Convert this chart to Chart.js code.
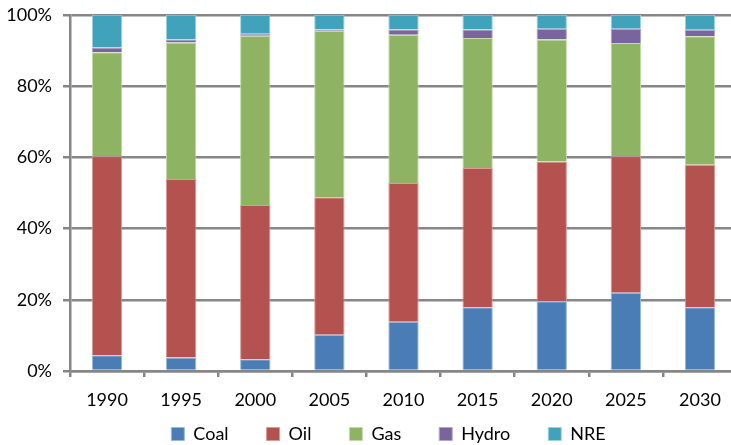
<!DOCTYPE html>
<html>
<head>
<meta charset="utf-8">
<script src="https://cdn.jsdelivr.net/npm/chart.js@4.4.1/dist/chart.umd.min.js"></script>
<style>
  html, body { margin: 0; padding: 0; background: #fff; overflow: hidden; }
  #wrap { width: 737px; height: 484px; margin-top: -7px; position: relative; }
</style>
</head>
<body>
<div id="wrap"><canvas id="myChart"></canvas></div>
<script>
// share of primary energy by source, percent of total per year
const years = ['1990', '1995', '2000', '2005', '2010', '2015', '2020', '2025', '2030'];
const coal  = [4.4, 3.8, 3.3, 10.2, 13.8, 17.9, 19.6, 22.0, 17.9];
const oil   = [55.9, 50.1, 43.3, 38.6, 39.0, 39.1, 39.2, 38.3, 40.0];
const gas   = [29.2, 38.3, 47.5, 46.7, 41.6, 36.5, 34.3, 31.8, 36.1];
const hydro = [1.3, 0.9, 0.6, 0.4, 1.5, 2.4, 3.0, 4.0, 1.8];
const nre   = [9.2, 6.9, 5.3, 4.1, 4.1, 4.1, 3.9, 3.9, 4.2];
const yTicks = [0, 20, 40, 60, 80, 100];

const gridGray = '#868686';
const font = { family: 'Lato', size: 18 };

function series(label, values, fill, edge) {
  return {
    label: label,
    data: values,
    backgroundColor: fill,
    borderColor: edge,
    borderWidth: 1,
    categoryPercentage: 1,
    barPercentage: 0.41
  };
}

// the wide legend padding pushes the legend box too low and too far left, pull it back
const legendNudge = {
  id: 'legendNudge',
  afterLayout(chart) {
    const lg = chart.legend;
    lg.left += 20; lg.right += 20;
    lg.top -= 24; lg.bottom -= 24;
  }
};

const data = {
  labels: years,
  datasets: [
    series('Coal', coal, '#4a7db5', '#9bb8dc'),
    series('Oil', oil, '#b4524f', '#d99a98'),
    series('Gas', gas, '#8db363', '#c3dba8'),
    series('Hydro', hydro, '#7a649d', '#b3a5c9'),
    series('NRE', nre, '#40a3bb', '#9dd3e0')
  ]
};

const config = {
  type: 'bar',
  data: data,
  plugins: [legendNudge],
  options: {
    responsive: true,
    maintainAspectRatio: false,
    animation: false,
    layout: { padding: 0 },
    scales: {
      x: {
        stacked: true,
        afterFit: (s) => { s.height = 40 },
        grid: {
          offset: true,
          drawOnChartArea: false,
          drawTicks: true,
          tickLength: 6,
          color: gridGray,
          lineWidth: 2.5
        },
        border: { color: gridGray, width: 2.5 },
        ticks: { color: '#000', font: font, padding: 12 }
      },
      y: {
        stacked: true,
        min: 0,
        max: 100,
        afterFit: (s) => { s.width = 70 },
        afterBuildTicks: (s) => { s.ticks = yTicks.map(v => ({ value: v })) },
        grid: {
          color: gridGray,
          lineWidth: 2.5,
          tickLength: 7
        },
        border: { color: gridGray, width: 2.5 },
        ticks: {
          color: '#000',
          font: font,
          padding: 11,
          callback: (v) => v + '%'
        }
      }
    },
    plugins: {
      tooltip: { enabled: false },
      legend: {
        position: 'bottom',
        labels: {
          color: '#000',
          font: font,
          boxWidth: 13,
          boxHeight: 13,
          padding: 38
        }
      }
    }
  }
};

const myChart = new Chart(document.getElementById('myChart'), config);
</script>
</body>
</html>
